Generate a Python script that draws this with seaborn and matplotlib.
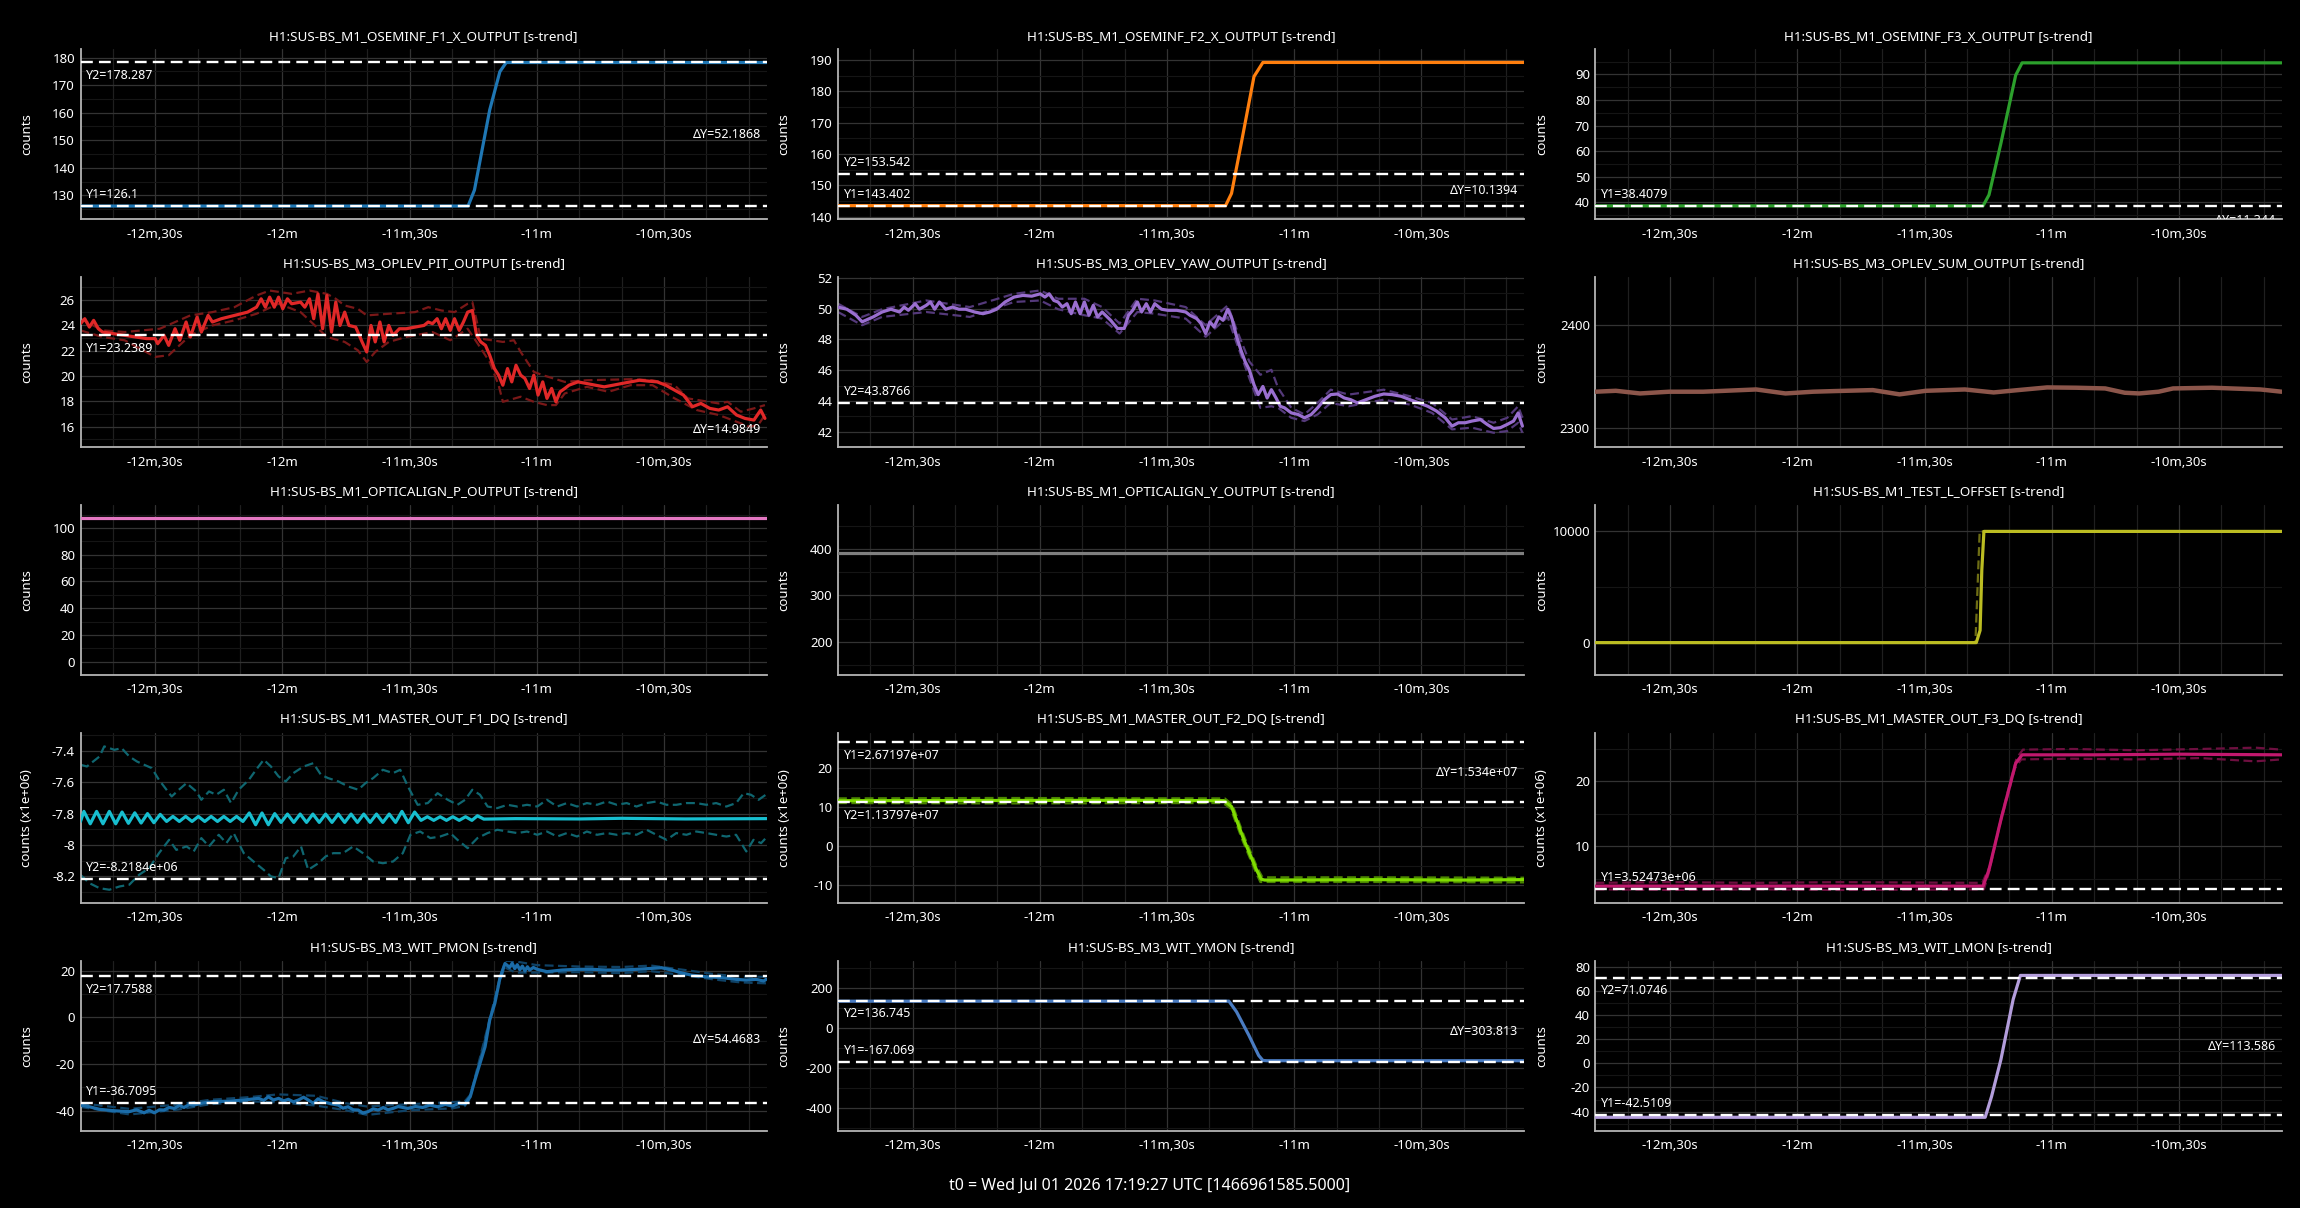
import numpy as np
import matplotlib
matplotlib.use("Agg")
import matplotlib.pyplot as plt
import matplotlib.transforms as mtransforms
from matplotlib.ticker import FixedLocator, MultipleLocator, AutoMinorLocator, FuncFormatter
import seaborn as sns

# ---- data (time in s relative to t0) ----
xtick_pos = [-750, -720, -690, -660, -630]
xtick_lab = ['-12m,30s', '-12m', '-11m,30s', '-11m', '-10m,30s']
t_lo, t_hi = -767.6, -605.8

titles = [
    "H1:SUS-BS_M1_OSEMINF_F1_X_OUTPUT [s-trend]",
    "H1:SUS-BS_M1_OSEMINF_F2_X_OUTPUT [s-trend]",
    "H1:SUS-BS_M1_OSEMINF_F3_X_OUTPUT [s-trend]",
    "H1:SUS-BS_M3_OPLEV_PIT_OUTPUT [s-trend]",
    "H1:SUS-BS_M3_OPLEV_YAW_OUTPUT [s-trend]",
    "H1:SUS-BS_M3_OPLEV_SUM_OUTPUT [s-trend]",
    "H1:SUS-BS_M1_OPTICALIGN_P_OUTPUT [s-trend]",
    "H1:SUS-BS_M1_OPTICALIGN_Y_OUTPUT [s-trend]",
    "H1:SUS-BS_M1_TEST_L_OFFSET [s-trend]",
    "H1:SUS-BS_M1_MASTER_OUT_F1_DQ [s-trend]",
    "H1:SUS-BS_M1_MASTER_OUT_F2_DQ [s-trend]",
    "H1:SUS-BS_M1_MASTER_OUT_F3_DQ [s-trend]",
    "H1:SUS-BS_M3_WIT_PMON [s-trend]",
    "H1:SUS-BS_M3_WIT_YMON [s-trend]",
    "H1:SUS-BS_M3_WIT_LMON [s-trend]",
]

f1x_mean = [(-767.6, 126.1), (-676.2, 126.1), (-674.7, 131.9), (-671.1, 161.0), (-668.7, 174.9),
            (-667.2, 178.2), (-605.8, 178.2)]
f2x_mean = [(-767.6, 143.5), (-676.2, 143.5), (-674.8, 147.4), (-672.5, 163.4), (-669.5, 184.7),
            (-667.4, 189.2), (-605.8, 189.2)]
f3x_mean = [(-767.6, 38.6), (-676.2, 38.6), (-674.8, 42.9), (-672.0, 63.0), (-668.5, 89.7),
            (-667.0, 94.5), (-605.8, 94.5)]

pit_mean = [(-767.6, 24.12), (-766.6, 24.51), (-765.5, 23.85), (-764.5, 24.38), (-763.4, 23.72),
            (-762.4, 23.46), (-757.2, 23.20), (-752.0, 22.94), (-750.0, 22.94), (-749.4, 22.54),
            (-747.9, 23.20), (-746.8, 22.41), (-745.3, 23.72), (-744.2, 22.81), (-742.7, 24.25),
            (-741.7, 23.07), (-740.1, 24.64), (-739.1, 23.46), (-737.5, 24.77), (-736.5, 24.25),
            (-734.4, 24.51), (-731.3, 24.77), (-728.2, 25.03), (-726.1, 25.42), (-725.0, 26.08),
            (-724.0, 25.42), (-723.0, 26.21), (-721.9, 25.42), (-720.9, 26.21), (-719.9, 25.29),
            (-718.8, 26.08), (-717.8, 25.69), (-715.7, 25.82), (-714.7, 25.42), (-713.6, 26.08),
            (-712.6, 24.51), (-711.6, 26.47), (-710.5, 23.72), (-709.5, 26.34), (-708.4, 23.46),
            (-707.4, 25.82), (-706.4, 23.98), (-705.3, 25.03), (-704.3, 23.98), (-702.7, 23.85),
            (-701.2, 22.68), (-700.1, 21.89), (-699.1, 23.98), (-698.1, 22.68), (-697.0, 24.25),
            (-696.0, 22.68), (-694.9, 23.98), (-693.9, 23.20), (-692.4, 23.72), (-690.8, 23.72),
            (-688.7, 23.85), (-686.6, 23.98), (-685.6, 24.25), (-684.6, 24.12), (-683.5, 24.51),
            (-682.5, 23.72), (-681.5, 24.51), (-680.4, 23.59), (-679.4, 24.51), (-678.3, 23.59),
            (-677.3, 24.25), (-676.3, 25.03), (-675.2, 25.16), (-674.2, 23.20), (-673.2, 22.68),
            (-672.1, 22.41), (-671.1, 21.63), (-670.0, 20.58), (-669.0, 20.06), (-668.0, 19.27),
            (-666.9, 20.58), (-665.9, 19.53), (-664.9, 20.84), (-663.8, 20.06), (-662.8, 19.80),
            (-661.7, 19.01), (-660.7, 20.06), (-659.7, 18.49), (-658.6, 19.53), (-657.6, 18.23),
            (-656.5, 19.01), (-655.5, 17.96), (-654.5, 18.75), (-653.4, 19.01), (-652.4, 19.27),
            (-650.3, 19.53), (-648.2, 19.40), (-646.2, 19.27), (-644.1, 19.14), (-642.0, 19.27),
            (-640.0, 19.40), (-637.9, 19.53), (-635.8, 19.66), (-633.7, 19.59), (-631.6, 19.53),
            (-629.6, 19.27), (-627.5, 18.88), (-625.4, 18.49), (-623.3, 17.57), (-621.3, 17.83),
            (-619.2, 17.44), (-617.1, 17.31), (-615.0, 17.57), (-612.9, 16.92), (-610.9, 16.65),
            (-608.8, 16.52), (-607.2, 17.31), (-606.2, 16.65)]
pit_max = [(-767.6, 24.51), (-762.4, 23.59), (-757.2, 23.46), (-748.9, 23.72), (-741.7, 24.77),
           (-736.5, 25.03), (-731.3, 25.42), (-726.1, 26.34), (-723.0, 26.73), (-717.8, 26.47),
           (-713.6, 26.73), (-709.5, 26.47), (-707.4, 26.08), (-705.3, 25.55), (-702.2, 25.29),
           (-700.1, 24.77), (-694.9, 24.90), (-688.7, 25.03), (-685.6, 25.42), (-682.5, 25.16),
           (-679.4, 25.03), (-676.3, 25.69), (-675.2, 25.82), (-673.2, 22.94), (-668.0, 22.68),
           (-665.4, 22.81), (-663.8, 21.89), (-660.7, 20.32), (-658.6, 20.06), (-653.4, 19.53),
           (-648.2, 19.66), (-637.9, 19.74), (-632.7, 19.66), (-627.5, 19.27), (-624.4, 18.23),
           (-617.1, 17.83), (-615.0, 17.96), (-611.9, 17.18), (-608.8, 17.44), (-606.2, 17.70)]
pit_min = [(-767.6, 23.59), (-762.4, 23.07), (-757.2, 22.81), (-750.0, 21.50), (-746.8, 21.63),
           (-741.7, 23.20), (-736.5, 23.98), (-731.3, 24.38), (-726.1, 24.90), (-720.9, 25.69),
           (-715.7, 25.03), (-713.6, 24.38), (-709.5, 23.07), (-705.3, 22.68), (-702.2, 22.02),
           (-700.1, 21.10), (-698.1, 21.89), (-694.9, 22.68), (-690.8, 23.07), (-684.6, 23.46),
           (-680.4, 22.81), (-676.3, 23.72), (-674.2, 22.68), (-671.1, 21.10), (-669.0, 19.27),
           (-668.0, 17.96), (-663.8, 18.36), (-660.7, 17.96), (-657.6, 17.70), (-655.5, 17.70),
           (-653.4, 18.62), (-648.2, 19.14), (-643.1, 18.75), (-637.9, 19.27), (-632.7, 19.27),
           (-627.5, 18.23), (-622.3, 17.31), (-617.1, 16.92), (-612.9, 16.39), (-609.8, 16.00),
           (-607.8, 16.13), (-606.2, 16.92)]

yaw_mean = [(-767.6, 50.10), (-765.5, 49.96), (-763.4, 49.57), (-761.9, 49.14), (-759.3, 49.46),
            (-757.2, 49.78), (-755.1, 49.96), (-753.1, 49.78), (-752.0, 50.10), (-751.0, 49.89),
            (-749.4, 50.32), (-748.4, 49.96), (-746.8, 50.21), (-745.8, 50.43), (-744.8, 49.96),
            (-743.7, 50.43), (-742.2, 49.96), (-740.6, 50.10), (-739.1, 49.96), (-737.5, 49.96),
            (-735.4, 49.78), (-733.4, 49.67), (-731.8, 49.78), (-730.2, 49.96), (-728.2, 50.43),
            (-726.1, 50.75), (-724.0, 50.86), (-721.9, 50.81), (-719.9, 50.96), (-718.8, 50.75),
            (-717.8, 50.96), (-716.7, 50.53), (-715.7, 50.43), (-714.7, 50.10), (-713.6, 50.32),
            (-712.6, 49.67), (-711.6, 50.43), (-710.5, 49.67), (-709.5, 50.43), (-708.4, 49.57),
            (-707.4, 50.21), (-706.4, 49.46), (-705.3, 49.78), (-703.3, 49.24), (-701.7, 48.71),
            (-700.1, 48.71), (-699.1, 49.57), (-698.1, 49.89), (-697.0, 50.43), (-696.0, 49.78),
            (-694.9, 50.32), (-693.9, 49.78), (-692.9, 50.32), (-691.3, 49.96), (-689.8, 49.89),
            (-687.7, 49.89), (-685.6, 49.78), (-684.6, 49.57), (-683.0, 49.35), (-682.0, 49.03),
            (-680.9, 48.38), (-679.9, 49.14), (-678.9, 48.81), (-677.8, 49.46), (-676.8, 49.24),
            (-675.7, 49.96), (-674.7, 49.35), (-673.7, 48.28), (-672.6, 47.31), (-671.6, 46.56),
            (-670.6, 46.02), (-669.5, 45.05), (-668.5, 44.41), (-667.4, 44.94), (-666.4, 44.19),
            (-665.4, 44.73), (-664.3, 44.19), (-663.3, 43.65), (-662.3, 43.55), (-660.7, 43.22),
            (-659.1, 43.12), (-657.6, 42.90), (-656.0, 43.12), (-654.5, 43.55), (-652.9, 44.08),
            (-651.4, 44.41), (-649.8, 44.45), (-648.2, 44.19), (-646.7, 44.08), (-645.1, 43.87),
            (-643.1, 44.08), (-641.0, 44.30), (-638.9, 44.45), (-636.9, 44.41), (-634.8, 44.30),
            (-632.7, 44.08), (-630.6, 43.87), (-628.5, 43.65), (-626.4, 43.33), (-624.4, 42.90),
            (-622.8, 42.36), (-621.3, 42.58), (-619.7, 42.58), (-618.1, 42.69), (-616.1, 42.79),
            (-614.5, 42.47), (-613.0, 42.21), (-611.4, 42.26), (-609.8, 42.47), (-608.3, 42.69),
            (-607.2, 43.22), (-606.2, 42.36)]
yaw_max = [(-767.6, 50.32), (-761.9, 49.46), (-757.2, 49.96), (-746.8, 50.53), (-736.5, 50.10),
           (-726.1, 50.96), (-719.9, 51.18), (-715.7, 50.64), (-709.5, 50.64), (-705.3, 50.10),
           (-701.2, 49.03), (-697.0, 50.64), (-692.9, 50.53), (-685.6, 50.10), (-680.9, 48.92),
           (-675.7, 50.21), (-673.7, 48.71), (-670.6, 46.56), (-668.0, 45.70), (-665.4, 46.02),
           (-663.8, 44.84), (-660.7, 43.55), (-657.6, 43.12), (-654.5, 43.87), (-651.4, 44.73),
           (-647.2, 44.41), (-638.9, 44.73), (-632.7, 44.30), (-627.5, 43.87), (-622.8, 42.79),
           (-618.1, 43.01), (-613.0, 42.58), (-609.8, 42.90), (-607.2, 43.65), (-606.2, 42.90)]
yaw_min = [(-767.6, 49.78), (-761.9, 48.92), (-757.2, 49.46), (-746.8, 49.78), (-736.5, 49.46),
           (-726.1, 50.43), (-719.9, 50.53), (-715.7, 49.96), (-709.5, 49.57), (-705.3, 49.35),
           (-701.2, 48.38), (-697.0, 49.78), (-692.9, 49.67), (-685.6, 49.35), (-680.9, 48.17),
           (-675.7, 49.46), (-673.7, 47.85), (-670.6, 45.48), (-668.0, 43.55), (-665.4, 43.65),
           (-663.8, 43.55), (-660.7, 42.90), (-657.6, 42.69), (-654.5, 43.12), (-651.4, 43.87),
           (-647.2, 43.65), (-638.9, 44.08), (-632.7, 43.76), (-627.5, 43.22), (-622.8, 42.15),
           (-618.1, 42.26), (-613.0, 41.93), (-609.8, 42.04), (-607.2, 42.58), (-606.2, 41.93)]

sum_mean = [(-767.6, 2335.1), (-762.8, 2336.0), (-757.1, 2333.4), (-750.2, 2335.1), (-742.2, 2335.1),
            (-729.7, 2337.3), (-722.8, 2333.4), (-716.3, 2335.1), (-711.4, 2335.7), (-702.2, 2336.7),
            (-695.9, 2332.5), (-689.7, 2336.0), (-680.5, 2337.3), (-673.7, 2334.4), (-667.9, 2336.7),
            (-661.1, 2339.3), (-654.2, 2339.0), (-647.4, 2338.3), (-642.8, 2334.1), (-639.4, 2333.4),
            (-634.8, 2335.1), (-631.4, 2338.3), (-622.2, 2339.0), (-617.7, 2338.3), (-610.8, 2337.3),
            (-605.8, 2335.1)]

optp_mean = [(-767.6, 107.7), (-605.8, 107.7)]
opty_mean = [(-767.6, 392.8), (-605.8, 392.8)]

test_mean = [(-767.6, 0), (-677.8, 0), (-676.9, 1100), (-676.5, 6500), (-676.0, 10000), (-605.8, 10000)]
test_max = [(-767.6, 0), (-678.0, 0), (-677.0, 10000), (-605.8, 10000)]

# MASTER_OUT values in units of 1e6 counts
mf1_mean = [(-767.6, -7.850), (-766.8, -7.786), (-765.3, -7.865), (-763.8, -7.786), (-762.3, -7.865),
            (-760.8, -7.786), (-759.3, -7.865), (-757.8, -7.790), (-756.3, -7.862), (-754.8, -7.795),
            (-753.3, -7.860), (-751.8, -7.800), (-750.3, -7.858), (-748.8, -7.805), (-747.3, -7.850),
            (-745.8, -7.818), (-744.3, -7.850), (-742.8, -7.818), (-741.3, -7.850), (-739.8, -7.818),
            (-738.3, -7.850), (-736.8, -7.818), (-735.3, -7.850), (-733.8, -7.818), (-732.3, -7.850),
            (-730.8, -7.818), (-729.3, -7.850), (-727.8, -7.796), (-726.3, -7.871), (-724.8, -7.796),
            (-723.3, -7.871), (-721.8, -7.800), (-720.3, -7.856), (-718.8, -7.803), (-717.3, -7.856),
            (-715.8, -7.803), (-714.3, -7.856), (-712.8, -7.803), (-711.3, -7.856), (-709.8, -7.803),
            (-708.3, -7.856), (-706.8, -7.803), (-705.3, -7.856), (-703.8, -7.803), (-702.3, -7.856),
            (-700.8, -7.803), (-699.3, -7.856), (-697.8, -7.803), (-696.3, -7.856), (-694.8, -7.803),
            (-693.3, -7.856), (-691.8, -7.786), (-690.3, -7.858), (-688.8, -7.790), (-687.3, -7.843),
            (-685.8, -7.820), (-684.3, -7.843), (-682.8, -7.820), (-681.3, -7.843), (-679.8, -7.820),
            (-678.3, -7.843), (-676.8, -7.820), (-675.3, -7.843), (-674.0, -7.814), (-672.5, -7.835),
            (-665.0, -7.832), (-650.0, -7.834), (-640.0, -7.830), (-625.0, -7.834), (-605.8, -7.832)]
mf1_max = [(-767.6, -7.489), (-766.1, -7.500), (-763.1, -7.436), (-762.0, -7.372), (-759.6, -7.394),
           (-757.9, -7.383), (-756.1, -7.436), (-754.3, -7.468), (-752.6, -7.489), (-750.8, -7.510),
           (-749.1, -7.585), (-746.1, -7.691), (-744.4, -7.648), (-742.6, -7.606), (-740.3, -7.659),
           (-739.1, -7.712), (-737.3, -7.659), (-735.6, -7.680), (-733.8, -7.648), (-732.1, -7.733),
           (-730.3, -7.648), (-727.9, -7.585), (-726.2, -7.521), (-724.4, -7.457), (-722.7, -7.500),
           (-720.9, -7.563), (-719.2, -7.595), (-717.4, -7.542), (-715.0, -7.500), (-712.7, -7.479),
           (-710.9, -7.553), (-709.2, -7.574), (-706.8, -7.595), (-704.5, -7.627), (-702.1, -7.648),
           (-700.4, -7.606), (-698.6, -7.574), (-696.3, -7.521), (-693.9, -7.542), (-692.2, -7.521),
           (-690.4, -7.627), (-688.1, -7.744), (-685.7, -7.733), (-683.4, -7.670), (-681.0, -7.712),
           (-678.7, -7.744), (-676.9, -7.712), (-675.2, -7.648), (-673.4, -7.680), (-671.6, -7.755),
           (-669.3, -7.765), (-666.9, -7.744), (-664.6, -7.755), (-662.3, -7.744), (-659.9, -7.755),
           (-657.6, -7.712), (-655.2, -7.755), (-652.9, -7.733), (-650.5, -7.755), (-648.2, -7.733),
           (-645.8, -7.744), (-643.5, -7.723), (-641.1, -7.744), (-638.8, -7.733), (-636.5, -7.755),
           (-634.1, -7.733), (-631.8, -7.723), (-629.4, -7.744), (-627.1, -7.744), (-624.7, -7.733),
           (-622.4, -7.733), (-620.0, -7.744), (-617.7, -7.733), (-615.3, -7.755), (-613.0, -7.733),
           (-611.2, -7.670), (-609.5, -7.680), (-607.7, -7.712), (-606.0, -7.680)]
mf1_min = [(-767.6, -8.190), (-765.5, -8.243), (-763.1, -8.275), (-760.8, -8.285), (-758.4, -8.264),
           (-756.1, -8.253), (-753.8, -8.190), (-751.4, -8.147), (-749.1, -8.052), (-746.7, -7.967),
           (-745.0, -8.031), (-742.6, -8.009), (-740.9, -8.041), (-739.1, -7.956), (-737.3, -8.009),
           (-735.0, -7.935), (-733.2, -7.988), (-731.5, -7.924), (-729.1, -8.052), (-726.8, -8.105),
           (-724.4, -8.158), (-722.7, -8.200), (-720.9, -8.211), (-719.2, -8.084), (-717.4, -8.073),
           (-715.6, -8.009), (-713.9, -8.158), (-711.5, -8.116), (-709.8, -8.073), (-708.0, -8.052),
           (-705.7, -8.052), (-703.3, -8.009), (-701.0, -8.052), (-698.6, -8.105), (-696.3, -8.116),
           (-693.9, -8.105), (-691.6, -8.052), (-689.8, -7.935), (-687.5, -7.914), (-685.1, -7.956),
           (-682.8, -7.946), (-680.4, -7.924), (-678.7, -7.967), (-676.3, -8.020), (-674.0, -7.956),
           (-671.6, -7.924), (-669.3, -7.903), (-666.9, -7.914), (-664.6, -7.924), (-662.3, -7.914),
           (-659.9, -7.935), (-657.6, -7.914), (-655.2, -7.946), (-652.9, -7.924), (-650.5, -7.946),
           (-648.2, -7.914), (-645.8, -7.935), (-643.5, -7.924), (-641.1, -7.935), (-638.8, -7.924),
           (-636.5, -7.935), (-634.1, -7.903), (-631.8, -7.935), (-629.4, -7.967), (-627.1, -7.924),
           (-624.7, -7.935), (-622.4, -7.914), (-620.0, -7.924), (-617.7, -7.935), (-615.3, -7.946),
           (-613.0, -7.935), (-610.6, -8.041), (-608.9, -7.967), (-607.1, -7.988), (-606.0, -7.956)]

mf2_mean = [(-767.6, 11.7), (-700.0, 11.8), (-676.6, 11.7), (-674.8, 10.2), (-671.9, 1.7),
            (-668.9, -6.1), (-667.8, -8.5), (-667.0, -8.7), (-640.0, -8.6), (-620.0, -8.7),
            (-605.8, -8.6)]
mf2_max = [(-767.6, 12.3), (-730.0, 12.4), (-676.4, 12.3), (-674.6, 10.7), (-671.7, 2.2),
           (-668.7, -5.6), (-667.5, -8.0), (-640.0, -8.0), (-605.8, -8.1)]
mf2_min = [(-767.6, 11.1), (-730.0, 11.0), (-676.8, 11.1), (-675.0, 9.7), (-672.1, 1.2),
           (-669.1, -6.6), (-668.0, -9.2), (-640.0, -9.2), (-605.8, -9.3)]

mf3_mean = [(-767.6, 3.9), (-676.2, 3.9), (-674.8, 6.4), (-672.0, 14.1), (-668.5, 22.8),
            (-667.0, 24.1), (-650.0, 24.1), (-630.0, 24.2), (-605.8, 24.1)]
mf3_max = [(-767.6, 4.4), (-750.0, 4.5), (-730.0, 4.4), (-710.0, 4.5), (-676.4, 4.4), (-674.6, 7.0),
           (-671.8, 14.8), (-668.3, 23.6), (-666.8, 24.9), (-655.0, 25.0), (-640.0, 24.8),
           (-625.0, 25.0), (-612.0, 25.2), (-605.8, 24.9)]
mf3_min = [(-767.6, 3.4), (-750.0, 3.3), (-730.0, 3.4), (-710.0, 3.3), (-676.0, 3.4), (-674.9, 5.8),
           (-672.2, 13.4), (-668.7, 22.0), (-667.2, 23.4), (-655.0, 23.5), (-640.0, 23.4),
           (-625.0, 23.6), (-612.0, 23.1), (-605.8, 23.4)]

pmon_mean = [(-767.6, -37.6), (-765.5, -38.3), (-763.1, -39.4), (-759.6, -40.0), (-756.1, -40.4),
             (-754.4, -39.6), (-752.6, -40.9), (-751.4, -39.8), (-750.2, -40.9), (-749.0, -39.6),
             (-747.9, -39.7), (-746.7, -38.6), (-745.5, -39.0), (-744.3, -37.8), (-743.2, -38.6),
             (-742.0, -37.4), (-740.9, -37.6), (-738.5, -36.6), (-736.2, -36.1), (-732.6, -35.9),
             (-729.1, -35.4), (-725.6, -34.7), (-724.4, -35.6), (-723.3, -34.0), (-722.1, -35.4),
             (-720.9, -34.7), (-719.7, -35.8), (-718.6, -35.1), (-717.4, -36.2), (-716.2, -35.4),
             (-715.0, -34.2), (-713.9, -35.4), (-712.7, -36.8), (-711.6, -34.9), (-710.4, -36.1),
             (-708.6, -37.0), (-706.8, -37.6), (-705.7, -38.9), (-704.5, -38.3), (-703.3, -39.6),
             (-702.1, -39.7), (-701.0, -41.0), (-699.8, -40.4), (-698.6, -39.2), (-697.4, -39.7),
             (-696.2, -38.6), (-695.1, -39.6), (-693.9, -39.0), (-692.7, -38.2), (-690.4, -39.0),
             (-688.6, -38.2), (-686.9, -38.6), (-685.2, -37.6), (-683.4, -38.3), (-681.6, -37.3),
             (-679.9, -38.0), (-678.4, -36.9), (-676.9, -37.1), (-675.7, -34.0), (-674.6, -26.9),
             (-673.4, -19.7), (-672.2, -12.6), (-671.1, -1.1), (-669.9, 6.0), (-668.7, 16.7),
             (-667.5, 23.1), (-666.4, 21.4), (-665.8, 23.2), (-665.2, 20.9), (-664.6, 22.6),
             (-664.0, 20.4), (-663.4, 22.0), (-662.8, 19.9), (-662.2, 21.7), (-661.7, 20.3),
             (-660.8, 21.4), (-659.9, 20.6), (-657.6, 19.6), (-654.0, 20.3), (-650.5, 20.6),
             (-647.0, 20.6), (-643.5, 20.3), (-640.0, 20.3), (-636.5, 20.6), (-632.9, 21.0),
             (-630.6, 21.3), (-628.2, 20.3), (-625.9, 19.1), (-623.5, 18.1), (-620.0, 17.4),
             (-616.5, 17.1), (-613.0, 16.3), (-610.6, 16.0), (-608.3, 16.3), (-606.5, 15.6),
             (-605.9, 16.3)]
pmon_max = [(-767.6, -36.8), (-756.0, -39.2), (-745.0, -37.4), (-737.0, -35.3), (-728.0, -34.2),
            (-721.0, -33.0), (-712.0, -33.6), (-705.0, -36.8), (-700.0, -38.2), (-690.0, -37.2),
            (-680.0, -36.3), (-677.0, -36.0), (-675.6, -33.0), (-671.0, 0.0), (-668.6, 18.0),
            (-667.3, 24.3), (-665.0, 24.0), (-660.0, 22.4), (-650.0, 21.8), (-640.0, 21.6),
            (-633.0, 22.2), (-625.0, 20.3), (-618.0, 18.5), (-612.0, 17.5), (-605.9, 17.4)]
pmon_min = [(-767.6, -38.4), (-756.0, -41.6), (-745.0, -39.6), (-737.0, -37.2), (-728.0, -36.0),
            (-721.0, -36.4), (-712.0, -37.8), (-705.0, -39.8), (-700.0, -41.8), (-690.0, -39.8),
            (-680.0, -39.0), (-677.0, -38.0), (-675.8, -35.0), (-671.2, -2.4), (-668.8, 15.0),
            (-667.6, 21.5), (-665.0, 19.2), (-660.0, 19.2), (-650.0, 19.4), (-640.0, 19.0),
            (-633.0, 19.8), (-625.0, 18.0), (-618.0, 16.2), (-612.0, 15.0), (-605.9, 14.6)]

ymon_mean = [(-767.6, 133.3), (-675.4, 133.3), (-673.6, 80.0), (-670.7, -36.7), (-668.4, -136.7),
             (-667.4, -161.7), (-666.5, -163.0), (-605.8, -163.0)]
lmon_mean = [(-767.6, -44.7), (-675.7, -44.7), (-674.2, -27.5), (-672.0, 3.0), (-669.1, 53.0),
             (-667.4, 72.8), (-605.8, 72.8)]

# cursors: (label, value, side of label)
f1x_cur = [("Y2=178.287", 178.287, "below"), ("Y1=126.1", 126.1, "above")]
f2x_cur = [("Y2=153.542", 153.542, "above"), ("Y1=143.402", 143.402, "above")]
f3x_cur = [("Y1=38.4079", 38.4079, "above"), ("Y2=27.0639", 27.0639, "above")]
pit_cur = [("Y1=23.2389", 23.2389, "below"), ("Y2=8.254", 8.254, "above")]
yaw_cur = [("Y2=43.8766", 43.8766, "above")]
mf1_cur = [("Y2=-8.2184e+06", -8.2184, "above")]
mf2_cur = [("Y1=2.67197e+07", 26.7197, "below"), ("Y2=1.13797e+07", 11.3797, "below")]
mf3_cur = [("Y1=3.52473e+06", 3.52473, "above")]
pmon_cur = [("Y2=17.7588", 17.7588, "below"), ("Y1=-36.7095", -36.7095, "above")]
ymon_cur = [("Y2=136.745", 136.745, "below"), ("Y1=-167.069", -167.069, "above")]
lmon_cur = [("Y2=71.0746", 71.0746, "below"), ("Y1=-42.5109", -42.5109, "above")]

# (mean, max, min, colour, envelope colour, ylim, yticks, ylabel, cursors, dY text)
panels = [
    (f1x_mean, None, None, '#1f77b4', '#174f7a', (121.3, 183.0), [130, 140, 150, 160, 170, 180], 'counts', f1x_cur, 'ΔY=52.1868'),
    (f2x_mean, None, None, '#ff7f0e', '#a0520a', (139.15, 193.4), [140, 150, 160, 170, 180, 190], 'counts', f2x_cur, 'ΔY=10.1394'),
    (f3x_mean, None, None, '#2ca02c', '#1b641b', (33.36, 99.8), [40, 50, 60, 70, 80, 90], 'counts', f3x_cur, 'ΔY=11.344'),
    (pit_mean, pit_max, pit_min, '#e02828', '#7a1818', (14.38, 27.78), [16, 18, 20, 22, 24, 26], 'counts', pit_cur, 'ΔY=14.9849'),
    (yaw_mean, yaw_max, yaw_min, '#9a6fd0', '#54397a', (40.99, 52.04), [42, 44, 46, 48, 50, 52], 'counts', yaw_cur, None),
    (sum_mean, None, None, '#8c564b', '#5a3730', (2280.8, 2447.1), [2300, 2400], 'counts', [], None),
    (optp_mean, None, None, '#e377c2', '#8a4876', (-10.2, 117.2), [0, 20, 40, 60, 80, 100], 'counts', [], None),
    (opty_mean, None, None, '#7f7f7f', '#4a4a4a', (127.3, 495.7), [200, 300, 400], 'counts', [], None),
    (test_mean, test_max, None, '#bcbd22', '#6e6e14', (-2925, 12358), [0, 10000], 'counts', [], None),
    (mf1_mean, mf1_max, mf1_min, '#17becf', '#0f6670', (-8.37, -7.2875), [-8.2, -8, -7.8, -7.6, -7.4], 'counts (x1e+06)', mf1_cur, None),
    (mf2_mean, mf2_max, mf2_min, '#7fdc00', '#4a8400', (-14.63, 29.08), [-10, 0, 10, 20], 'counts (x1e+06)', mf2_cur, 'ΔY=1.534e+07'),
    (mf3_mean, mf3_max, mf3_min, '#c2186e', '#6e0f40', (1.28, 27.44), [10, 20], 'counts (x1e+06)', mf3_cur, None),
    (pmon_mean, pmon_max, pmon_min, '#1b6ca8', '#0f4266', (-48.71, 24.14), [-40, -20, 0, 20], 'counts', pmon_cur, 'ΔY=54.4683'),
    (ymon_mean, None, None, '#4a7cc2', '#2c4a74', (-513, 333), [-400, -200, 0, 200], 'counts', ymon_cur, 'ΔY=303.813'),
    (lmon_mean, None, None, '#b39ddb', '#6b5e83', (-56.1, 84.7), [-40, -20, 0, 20, 40, 60, 80], 'counts', lmon_cur, 'ΔY=113.586'),
]

footer = "t0 = Wed Jul 01 2026 17:19:27 UTC [1466961585.5000]"

# ---- style ----
sns.set_theme(style="dark")
plt.rcParams.update({
    'figure.facecolor': 'black', 'axes.facecolor': 'black', 'savefig.facecolor': 'black',
    'text.color': 'white', 'axes.labelcolor': 'white',
    'xtick.color': 'white', 'ytick.color': 'white',
    'axes.unicode_minus': False,
})
plt.rcParams['font.family'] = ['Noto Sans', 'DejaVu Sans']

fig, axes = plt.subplots(5, 3, figsize=(23, 12.08), dpi=100)
fig.subplots_adjust(left=0.035, right=0.992, top=0.9592, bottom=0.0637, wspace=0.104, hspace=0.341)

fmt = FuncFormatter(lambda v, p: '{:g}'.format(round(v, 6)))

for ax, title, p in zip(axes.flat, titles, panels):
    mean, hi, lo, col, ecol, ylim, yticks, ylab, curs, dy = p
    for env in (hi, lo):
        if env is None:
            continue
        et, ev = np.array(env).T
        sns.lineplot(x=et, y=ev, ax=ax, color=ecol, linewidth=1.6, estimator=None,
                     sort=False, legend=False)
        ax.lines[-1].set_dashes((4, 2))
    mt, mv = np.array(mean).T
    lw = 3.2 if col == '#8c564b' else 2.3
    sns.lineplot(x=mt, y=mv, ax=ax, color=col, linewidth=lw, estimator=None, sort=False,
                 legend=False, zorder=3)

    ax.set_xlim(t_lo, t_hi)
    ax.set_ylim(*ylim)
    ax.xaxis.set_major_locator(FixedLocator(xtick_pos))
    ax.set_xticklabels(xtick_lab)
    ax.xaxis.set_minor_locator(MultipleLocator(10))
    ax.yaxis.set_major_locator(FixedLocator(yticks))
    ax.yaxis.set_major_formatter(fmt)
    ax.yaxis.set_minor_locator(AutoMinorLocator(2))
    ax.grid(which='major', color='#333333', linewidth=0.9)
    ax.grid(which='minor', axis='x', color='#1f1f1f', linewidth=0.9)
    ax.grid(which='minor', axis='y', color='#151515', linewidth=0.8)
    ax.set_axisbelow(True)
    ax.tick_params(which='both', length=0, labelsize=9.5)
    ax.tick_params(axis='x', pad=6)
    ax.tick_params(axis='y', pad=4)
    for s in ('top', 'right'):
        ax.spines[s].set_visible(False)
    for s in ('left', 'bottom'):
        ax.spines[s].set_color('#b4b4b4')
        ax.spines[s].set_linewidth(1.3)
    ax.set_title(title, fontsize=9.7, color='white', pad=7)
    ax.set_xlabel('')
    ax.set_ylabel(ylab, fontsize=9.5)
    ax.yaxis.set_label_coords(-0.069, 0.5)

    # cursors
    blend = mtransforms.blended_transform_factory(ax.transAxes, ax.transData)
    for lab, val, side in curs:
        ax.axhline(val, color='white', linewidth=1.7, dashes=(5, 2.6), zorder=5)
        if side == 'above':
            tr = mtransforms.offset_copy(blend, fig=fig, x=4, y=3.5, units='points')
            va = 'bottom'
        else:
            tr = mtransforms.offset_copy(blend, fig=fig, x=4, y=-5, units='points')
            va = 'top'
        ax.text(0, val, lab, transform=tr, ha='left', va=va, fontsize=9, color='white',
                clip_on=True, zorder=6)
    if dy is not None and len(curs) == 2:
        mid = (curs[0][1] + curs[1][1]) / 2
        tr = mtransforms.offset_copy(blend, fig=fig, x=-4, y=0, units='points')
        ax.text(1, mid, dy, transform=tr, ha='right', va='center', fontsize=9, color='white',
                clip_on=True, zorder=6)

fig.text(0.5, 0.0185, footer, ha='center', va='center', fontsize=11.5, color='white')

fig.savefig('out.png', dpi=100, facecolor='black')
